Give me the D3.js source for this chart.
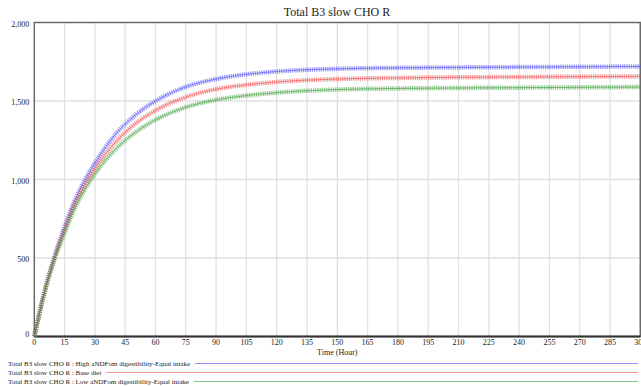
<!DOCTYPE html>
<html>
<head>
<meta charset="utf-8">
<script src="https://cdn.jsdelivr.net/npm/d3@7"></script>
<style>
  body { margin: 0; background: #fff; }
  svg { display: block; font-family: 'Liberation Serif', 'Times New Roman', serif; }
</style>
</head>
<body>
<div id="chart"></div>
<script>
let hours = [0, 5, 10, 15, 20, 25, 30, 40, 50, 60, 75, 90, 105, 120, 150, 180, 210, 240, 270, 300]

let highIntake = [0, 285, 510, 700, 865, 995, 1105, 1285, 1410, 1500, 1590, 1640, 1670, 1688, 1705, 1711, 1714, 1716, 1718, 1720]
let baseDiet = [0, 280, 500, 680, 840, 965, 1070, 1235, 1355, 1440, 1525, 1575, 1603, 1621, 1640, 1647, 1651, 1653, 1655, 1657]
let lowIntake = [0, 275, 490, 660, 815, 935, 1035, 1190, 1300, 1380, 1460, 1507, 1535, 1553, 1573, 1580, 1583, 1585, 1587, 1589]

let seriesNames = [
  'Total B3 slow CHO R : High aNDFom digestibility-Equal intake',
  'Total B3 slow CHO R : Base diet',
  'Total B3 slow CHO R : Low aNDFom digestibility-Equal intake'
]
let seriesColors = ['#4a4af5', '#f24a4a', '#3c9e3c']

let xTicks = d3.range(0, 301, 15)
let yTicks = [0, 500, 1000, 1500, 2000]

let width = 641
let height = 386
let margin = { top: 22.5, left: 34.3, right: 0.7, bottom: 49.5 }

let svg = d3.select('#chart')
  .append('svg')
  .attr('width', width)
  .attr('height', height)

let x = d3.scaleLinear().domain([0, 300]).range([margin.left, width - margin.right])
let y = d3.scaleLinear().domain([0, 2000]).range([height - margin.bottom, margin.top])

// grid
svg.append('g')
  .selectAll('line')
  .data(xTicks.slice(1))
  .enter()
  .append('line')
  .attr('x1', d => x(d))
  .attr('x2', d => x(d))
  .attr('y1', y(2000))
  .attr('y2', y(0))
  .attr('stroke', '#e1e1e1')
  .attr('stroke-width', 1.3)

svg.append('g')
  .selectAll('line')
  .data(yTicks.slice(1, -1))
  .enter()
  .append('line')
  .attr('x1', x(0))
  .attr('x2', x(300))
  .attr('y1', d => y(d))
  .attr('y2', d => y(d))
  .attr('stroke', '#e1e1e1')
  .attr('stroke-width', 1.3)

// frame
svg.append('rect')
  .attr('x', x(0))
  .attr('y', y(2000))
  .attr('width', x(300) - x(0))
  .attr('height', y(0) - y(2000))
  .attr('fill', 'none')
  .attr('stroke', '#6a6a6a')
  .attr('stroke-width', 1.5)

svg.append('line')
  .attr('x1', x(0))
  .attr('x2', x(300))
  .attr('y1', y(0))
  .attr('y2', y(0))
  .attr('stroke', '#333')
  .attr('stroke-width', 2)

// tick labels
svg.append('g')
  .selectAll('text')
  .data(yTicks)
  .enter()
  .append('text')
  .attr('x', x(0) - 5)
  .attr('y', d => y(d))
  .attr('dy', d => d === 0 ? '0.1em' : '0.55em')
  .attr('text-anchor', 'end')
  .attr('font-size', 8)
  .attr('fill', '#222')
  .text(d => d3.format(',')(d))

svg.append('g')
  .selectAll('text')
  .data(xTicks)
  .enter()
  .append('text')
  .attr('x', d => x(d))
  .attr('y', y(0) + 8)
  .attr('text-anchor', 'middle')
  .attr('font-size', 8)
  .attr('fill', '#222')
  .text(d => d)

svg.append('text')
  .attr('x', x(150))
  .attr('y', y(0) + 18)
  .attr('text-anchor', 'middle')
  .attr('font-size', 8)
  .attr('fill', '#222')
  .text('Time (Hour)')

svg.append('text')
  .attr('x', 337)
  .attr('y', 16)
  .attr('text-anchor', 'middle')
  .attr('font-size', 12)
  .attr('fill', '#222')
  .text('Total B3 slow CHO R')

// series
let line = d3.line()
  .x(d => x(d.hour))
  .y(d => y(d.value))
  .curve(d3.curveMonotoneX)

let allSeries = [highIntake, baseDiet, lowIntake]

let plot = svg.append('g')

allSeries.forEach((values, i) => {
  let points = hours.map((h, j) => ({ hour: h, value: values[j] }))
  // wide textured stroke stands in for the fine oscillation of the model output
  plot.append('path')
    .datum(points)
    .attr('d', line)
    .attr('fill', 'none')
    .attr('stroke', seriesColors[i])
    .attr('stroke-width', 4.5)
    .attr('stroke-opacity', 0.55)
    .attr('stroke-dasharray', '1.3 0.9')
  plot.append('path')
    .datum(points)
    .attr('d', line)
    .attr('fill', 'none')
    .attr('stroke', seriesColors[i])
    .attr('stroke-width', 1)
    .attr('stroke-opacity', 0.6)
})

// legend
let legend = svg.append('g')

seriesNames.forEach((name, i) => {
  let rowY = 363.5 + i * 9
  let label = legend.append('text')
    .attr('x', 8)
    .attr('y', rowY)
    .attr('dy', '0.33em')
    .attr('font-size', 7)
    .attr('fill', '#222')
    .text(name)
  let textEnd = 8 + label.node().getComputedTextLength()
  legend.append('line')
    .attr('x1', textEnd + 5)
    .attr('x2', 638)
    .attr('y1', rowY)
    .attr('y2', rowY)
    .attr('stroke', seriesColors[i])
    .attr('stroke-opacity', 0.6)
    .attr('stroke-width', 1.2)
})
</script>
</body>
</html>
